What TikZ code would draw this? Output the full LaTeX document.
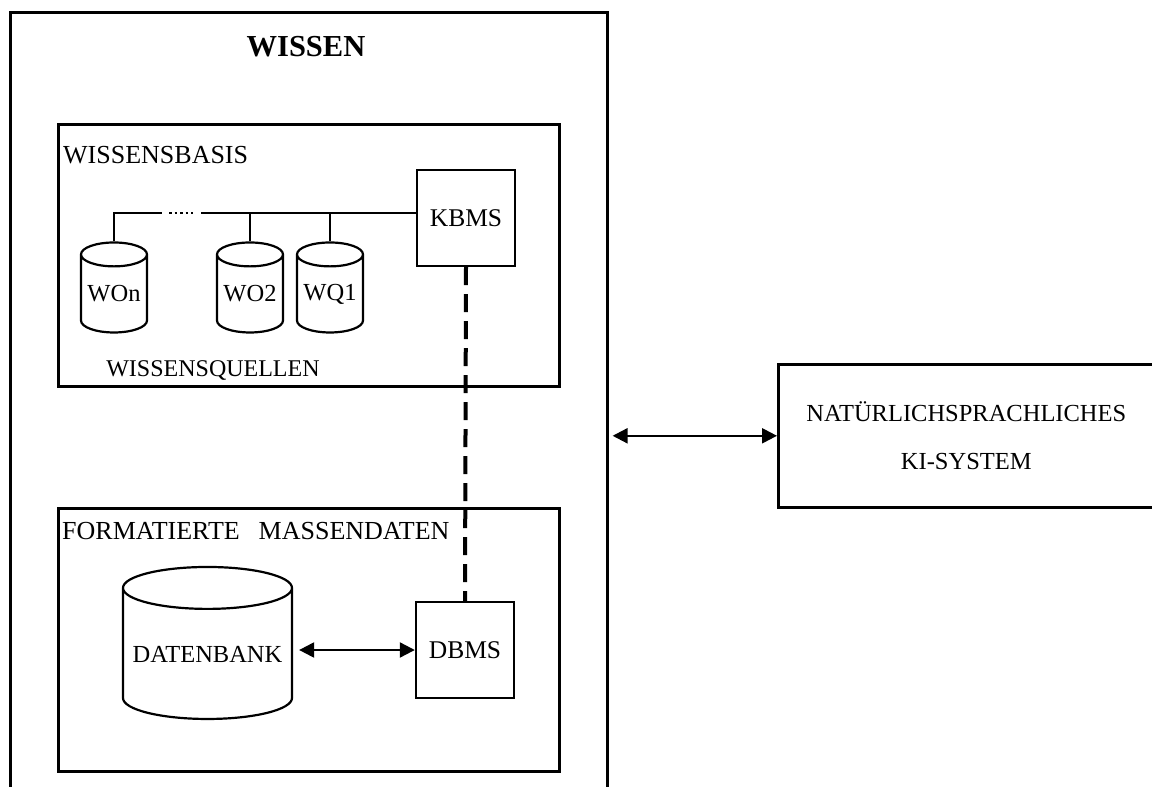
\documentclass[tikz,border=0pt]{standalone}
\usepackage{fontspec}
\setmainfont{Liberation Serif}
\usetikzlibrary{arrows.meta,calc,shapes.geometric}

\tikzset{
  frame/.style={draw, line width=2.6pt, rectangle, inner sep=0pt},
  mgr/.style={draw, line width=2.4pt, rectangle, inner sep=0pt,
    minimum width=98pt, minimum height=96pt, font=\fontsize{25.5}{30}\selectfont},
  store/.style={draw, line width=2.2pt, cylinder, shape border rotate=90,
    inner sep=0pt, font=\fontsize{24.5}{29}\selectfont},
  title/.style={inner sep=0pt, font=\fontsize{26}{31}\selectfont},
  conn/.style={line width=2.2pt}
}

\begin{document}
\begin{tikzpicture}[x=1pt,y=-1pt,>={Triangle[length=15pt,width=15pt]}]
  \useasboundingbox (0,0) rectangle (1152,787);
  % outer frame, open below the page
  \node[frame, anchor=north west, minimum width=597pt, minimum height=800pt] (wissen) at (9,11) {};
  \node[title, font=\fontsize{30.5}{36}\selectfont\bfseries] (wissentitle) at (306,47) {WISSEN};
  % knowledge base
  \node[frame, anchor=north west, minimum width=501pt, minimum height=262pt] (wbasis) at (57,123) {};
  \node[title, anchor=west] (wbasistitle) at (63,155) {WISSENSBASIS};
  \node[mgr] (kbms) at (466,218) {KBMS};
  \node[store, minimum width=66pt, minimum height=90pt, aspect=0.45] (won) at (114,294) {WOn};
  \node[store, minimum width=66pt, minimum height=90pt, aspect=0.45] (wo2) at (250,294) {WO2};
  \node[store, minimum width=66pt, minimum height=90pt, aspect=0.45] (wq1) at (330,294) {WQ1};
  \node[inner sep=0pt, font=\fontsize{24}{29}\selectfont] (wquellen) at (213,370) {WISSENSQUELLEN};
  % bus to the sources
  \coordinate (gapl) at (162,213);
  \coordinate (gapr) at (201,213);
  \draw[conn] (won.north) |- (gapl);
  \draw[line width=2.4pt, dash pattern=on 2.5pt off 3pt] ($(gapl)+(7,0)$) -- ($(gapr)+(-8,0)$);
  \draw[conn] (gapr) -- (gapr -| kbms.west);
  \draw[conn] (wo2.north) -- (wo2.north |- gapr);
  \draw[conn] (wq1.north) -- (wq1.north |- gapr);
  % mass data
  \node[frame, anchor=north west, minimum width=501pt, minimum height=263pt] (fmass) at (57,507) {};
  \node[title, anchor=west] (fmasstitle) at (62,531) {FORMATIERTE\hspace{19pt}MASSENDATEN};
  \node[store, minimum width=169pt, minimum height=152pt, aspect=0.28] (datenbank) at (207.5,654) {DATENBANK};
  \node[mgr] (dbms) at (465,650) {DBMS};
  \draw[conn, <->, shorten <=6pt] (datenbank.east |- dbms.west) -- (dbms.west);
  \draw[line width=4pt, dash pattern=on 18pt off 9pt] (kbms.south) -- (dbms.north);
  % external system
  \node[frame, anchor=north west, minimum width=376pt, minimum height=143pt,
    align=center, font=\fontsize{24.5}{48}\selectfont] (ki) at (777,363) {NAT\"URLICHSPRACHLICHES\\KI-SYSTEM};
  \draw[conn, <->, shorten <=4pt] (wissen.east |- ki.west) -- (ki.west);
\end{tikzpicture}
\end{document}
